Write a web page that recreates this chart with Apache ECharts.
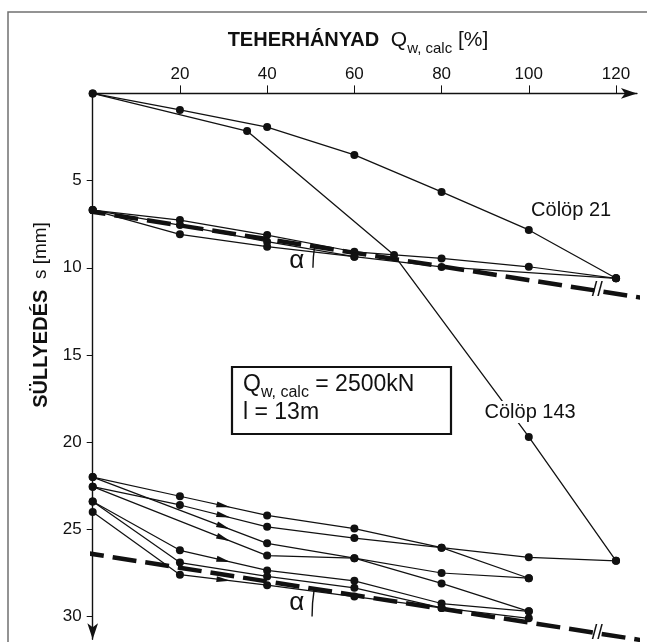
<!DOCTYPE html>
<html>
<head>
<meta charset="utf-8">
<script src="https://cdn.jsdelivr.net/npm/echarts@6/dist/echarts.min.js"></script>
<style>
  html, body { margin: 0; padding: 0; background: #fff; }
  #chart { width: 647px; height: 642px; }
</style>
</head>
<body>
<div id="chart"></div>
<script>
// tengelyek
const xTicks = [20, 40, 60, 80, 100, 120]
const yTicks = [5, 10, 15, 20, 25, 30]

// Cölöp 21 / Cölöp 143 (első terhelés)
const colop21 = [[0, 0], [20, 0.95], [40, 1.93], [60, 3.53], [80, 5.65], [100, 7.83], [120, 10.6]]
const colop143 = [[0, 0], [35.4, 2.16], [69.1, 9.27], [100, 19.7], [120, 26.8]]

// felső ciklusok
const mid1 = [[0, 6.69], [20, 7.26], [40, 8.12], [60, 9.08], [80, 9.46], [100, 9.94], [120, 10.6]]
const mid2 = [[0, 6.69], [20, 7.55], [40, 8.5], [60, 9.36], [80, 9.95], [120, 10.6]]
const mid3 = [[0, 6.69], [20, 8.08], [40, 8.79], [60, 9.36]]

// alsó ciklusok
const low1 = [[0, 22.0], [20, 23.1], [40, 24.2], [60, 24.95], [80, 26.05], [100, 26.6], [120, 26.8]]
const low2 = [[0, 22.55], [20, 23.6], [40, 24.85], [60, 25.5], [80, 26.05], [100, 27.8]]
const low3 = [[0, 22.0], [40, 25.8], [60, 26.65], [80, 27.5], [100, 27.8]]
const low4 = [[0, 22.55], [40, 26.5], [60, 26.65], [80, 28.1], [100, 29.7]]
const low5 = [[0, 23.4], [20, 26.2], [40, 27.35], [60, 27.95], [80, 29.25], [100, 29.7]]
const low6 = [[0, 23.4], [20, 26.9], [40, 27.7], [60, 28.35], [80, 29.5], [100, 30.1]]
const low7 = [[0, 24.0], [20, 27.6], [40, 28.2], [60, 28.85], [80, 29.5]]

// szaggatott érintők
const dashUpper = [[-2.5, 6.69], [126.2, 11.73]]
const dashLower = [[-2.9, 26.3], [127.1, 31.4]]

// nyilak a vonalakon (vonal, x)
const arrowMarks = [[low1, 30], [low2, 30], [low3, 30], [low4, 30], [low5, 30], [low7, 30]]

const FONT = 'Liberation Sans, Arial, sans-serif'
const INK = '#111'
const xEnd = 124.8
const yEnd = 31.3

const chart = echarts.init(document.getElementById('chart'))

function curve(data, width) {
  return {
    type: 'line', data: data, symbol: 'circle', symbolSize: 8, clip: false, silent: true,
    lineStyle: { color: INK, width: width || 1.25 }, itemStyle: { color: INK }, z: 4
  }
}
function dashed(data) {
  return {
    type: 'line', data: data, symbol: 'none', clip: false, silent: true,
    lineStyle: { color: INK, width: 4.5, type: [24, 9] }, z: 3
  }
}
function textMarks(names, size, bg) {
  return {
    type: 'scatter', symbolSize: 0, silent: true, z: 6, itemStyle: { opacity: 1 },
    label: {
      show: true, position: 'inside', formatter: p => p.name, fontSize: size, color: INK,
      fontFamily: FONT, backgroundColor: bg ? '#fff' : 'transparent', padding: bg ? [1, 2] : 0
    },
    data: names
  }
}

const gridLines = xTicks.map(t => [{ coord: [t, 0] }, { coord: [t, yTicks[yTicks.length - 1]] }])
  .concat(yTicks.map(t => [{ coord: [0, t] }, { coord: [xTicks[xTicks.length - 1], t] }]))

// pont a vonalon adott x-nél
function onLine(line, x) {
  for (let i = 1; i < line.length; i++) {
    const a = line[i - 1], b = line[i]
    if (x >= a[0] && x <= b[0]) return [[x, a[1] + (b[1] - a[1]) * (x - a[0]) / (b[0] - a[0])], a, b]
  }
  return [line[0], line[0], line[1]]
}

chart.setOption({
  animation: false,
  textStyle: { fontFamily: FONT },
  grid: { left: 92.7, top: 93.4, width: xEnd * 4.361, height: yEnd * 17.44, containLabel: false, outerBoundsMode: 'none' },
  xAxis: {
    type: 'value', min: 0, max: xEnd, position: 'top',
    axisLine: { show: true, lineStyle: { color: INK, width: 1.4 }, symbol: ['none', 'arrow'], symbolSize: [8, 16] },
    axisTick: { show: true, customValues: xTicks, length: 8, lineStyle: { color: INK } },
    axisLabel: { customValues: xTicks, margin: 11, fontSize: 17, color: INK, fontFamily: FONT },
    splitLine: { show: false }
  },
  yAxis: {
    type: 'value', min: 0, max: yEnd, inverse: true,
    axisLine: { show: true, lineStyle: { color: INK, width: 1.4 }, symbol: ['arrow', 'none'], symbolSize: [8, 16] },
    axisTick: { show: true, customValues: yTicks, length: 6, lineStyle: { color: INK } },
    axisLabel: { customValues: yTicks, margin: 11, fontSize: 17, color: INK, fontFamily: FONT },
    splitLine: { show: false }
  },
  series: [
    {
      type: 'line', data: [], silent: true,
      markLine: {
        silent: true, symbol: ['none', 'none'], label: { show: false },
        lineStyle: { color: '#3a3a3a', width: 1, type: 'solid' },
        data: gridLines
      }
    },
    dashed(dashUpper), dashed(dashLower),
    curve(colop21, 1.3), curve(colop143, 1.3),
    curve(mid1), curve(mid2), curve(mid3),
    curve(low1), curve(low2), curve(low3), curve(low4), curve(low5), curve(low6), curve(low7),
    textMarks([{ name: 'Cölöp 21', value: [109.7, 6.69] }, { name: 'Cölöp 143', value: [100.3, 18.27] }], 20, true),
    textMarks([{ name: 'α', value: [46.8, 9.6] }, { name: 'α', value: [46.8, 29.2] }], 26, false),
    textMarks([{ name: '//', value: onLine(dashUpper, 115.7)[0] }, { name: '//', value: onLine(dashLower, 115.7)[0] }], 20, false)
  ]
})

const px = p => chart.convertToPixel({ xAxisIndex: 0, yAxisIndex: 0 }, p)

// nyílhegyek
const arrowData = arrowMarks.map(m => {
  const r = onLine(m[0], m[1])
  const a = px(r[1]), b = px(r[2])
  const ang = Math.atan2(b[1] - a[1], b[0] - a[0]) * 180 / Math.PI
  return { value: r[0], symbolRotate: -ang }
})

// α ívek
function alphaArc(dash, yBase, xLeft) {
  const x = dash[0][0] + (yBase - dash[0][1]) * (dash[1][0] - dash[0][0]) / (dash[1][1] - dash[0][1])
  const c = px([x, yBase])
  const l = px([xLeft, yBase])
  const p1 = px(dash[0]), p2 = px(dash[1])
  const th = Math.atan2(p2[1] - p1[1], p2[0] - p1[0])
  return {
    type: 'arc', z: 50,
    shape: { cx: c[0], cy: c[1], r: c[0] - l[0], startAngle: Math.PI, endAngle: Math.PI + th, clockwise: true },
    style: { stroke: INK, lineWidth: 1.4, fill: null }
  }
}

const richMain = { fontSize: 23, fontFamily: FONT, fill: INK, lineHeight: 28, verticalAlign: 'top' }
const richSub = { fontSize: 16, fontFamily: FONT, fill: INK, lineHeight: 16, verticalAlign: 'bottom' }

chart.setOption({
  series: [{
    type: 'scatter', silent: true, z: 5,
    symbol: 'path://M0,0 L12,3 L0,6 Z', symbolSize: [14, 6],
    itemStyle: { color: INK, opacity: 1 },
    data: arrowData
  }],
  graphic: [
    {
      type: 'rect', z: 0, silent: true,
      shape: { x: 8, y: 12, width: 660, height: 660 },
      style: { stroke: '#707070', lineWidth: 1.5, fill: null }
    },
    {
      type: 'text', x: 358, y: 43, z: 50,
      style: {
        text: '{b|TEHERHÁNYAD}{q|  Q}{s|w, calc}{q| [%]}', align: 'center', verticalAlign: 'middle',
        rich: {
          b: { fontSize: 20, fontWeight: 'bold', fontFamily: FONT, fill: INK, lineHeight: 26, verticalAlign: 'top' },
          q: { fontSize: 21, fontFamily: FONT, fill: INK, lineHeight: 26, verticalAlign: 'top' },
          s: { fontSize: 15, fontFamily: FONT, fill: INK, lineHeight: 15, verticalAlign: 'bottom' }
        }
      }
    },
    {
      type: 'text', x: 41, y: 315, rotation: Math.PI / 2, z: 50,
      style: {
        text: '{b|SÜLLYEDÉS}{q|  s [mm]}', align: 'center', verticalAlign: 'middle',
        rich: {
          b: { fontSize: 20, fontWeight: 'bold', fontFamily: FONT, fill: INK },
          q: { fontSize: 19, fontFamily: FONT, fill: INK }
        }
      }
    },
    {
      type: 'rect', z: 60, silent: true,
      shape: { x: 232, y: 367, width: 219, height: 67 },
      style: { stroke: INK, lineWidth: 2.2, fill: '#fff' }
    },
    {
      type: 'text', x: 243, y: 401, z: 61,
      style: {
        text: '{q|Q}{s|w, calc}{q| = 2500kN}\n{q|l = 13m}', align: 'left', verticalAlign: 'middle',
        rich: { q: richMain, s: richSub }
      }
    },
    alphaArc(dashUpper, 10, 50.5),
    alphaArc(dashLower, 30, 50.3)
  ]
})
</script>
</body>
</html>
